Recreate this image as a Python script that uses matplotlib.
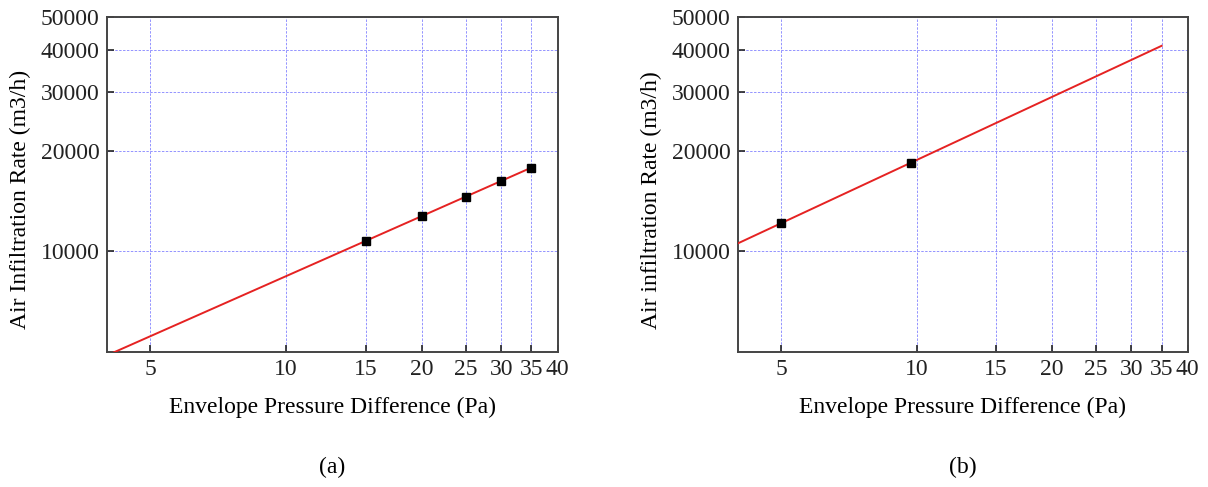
import numpy as np
import matplotlib
matplotlib.use("Agg")
import matplotlib.pyplot as plt
from matplotlib.ticker import FixedLocator, FixedFormatter, NullLocator

plt.rcParams['font.family'] = ['Liberation Serif', 'DejaVu Serif']

# measured points, panel (a) and (b)
dp_a = [15, 20, 25, 30, 35]
q_a = [10750, 12750, 14550, 16250, 17800]
dp_b = [5, 9.7]
q_b = [12150, 18400]

x_ticks = [5, 10, 15, 20, 25, 30, 35, 40]
y_ticks = [10000, 20000, 30000, 40000, 50000]
fit_range = [4, 35]

ylabels = ["Air Infiltration Rate (m3/h)", "Air infiltration Rate (m3/h)"]
captions = ["(a)", "(b)"]


def panel(ax, dp, q, ylabel, caption):
    # power law fit Q = C * dP^n, done in log space
    n, lnC = np.polyfit(np.log(dp), np.log(q), 1)
    xf = np.geomspace(fit_range[0], fit_range[1], 100)
    ax.plot(xf, np.exp(lnC) * xf ** n, color='#e52222', lw=1.4, zorder=3)
    ax.plot(dp, q, 's', color='black', ms=6, zorder=4)

    ax.set_xscale('log')
    ax.set_yscale('log')
    ax.set_xlim(4, 40)
    ax.set_ylim(5000, 50000)

    ax.xaxis.set_major_locator(FixedLocator(x_ticks))
    ax.xaxis.set_major_formatter(FixedFormatter([str(t) for t in x_ticks]))
    ax.xaxis.set_minor_locator(NullLocator())
    ax.yaxis.set_major_locator(FixedLocator(y_ticks))
    ax.yaxis.set_major_formatter(FixedFormatter([str(t) for t in y_ticks]))
    ax.yaxis.set_minor_locator(NullLocator())

    ax.grid(True, color='#7878ff', ls=(0, (2.5, 1.5)), lw=0.7, alpha=0.8)
    ax.tick_params(direction='in', length=5, width=1.2, labelsize=17,
                   colors='#222222', pad=5)
    for s in ax.spines.values():
        s.set_color('#444444')
        s.set_linewidth(1.4)

    ax.set_ylabel(ylabel, fontsize=17)
    ax.yaxis.set_label_coords(-0.168, 0.455)
    ax.set_xlabel("Envelope Pressure Difference (Pa)", fontsize=17, labelpad=12)
    ax.text(0.5, -0.345, caption, transform=ax.transAxes, ha='center',
            va='center', fontsize=17)


fig = plt.figure(figsize=(12.08, 4.87), dpi=100)
ax1 = fig.add_axes([0.0883, 0.2766, 0.3733, 0.6879])
ax2 = fig.add_axes([0.6107, 0.2766, 0.3725, 0.6879])

panel(ax1, dp_a, q_a, ylabels[0], captions[0])
panel(ax2, dp_b, q_b, ylabels[1], captions[1])

fig.savefig("out.png", dpi=100)
